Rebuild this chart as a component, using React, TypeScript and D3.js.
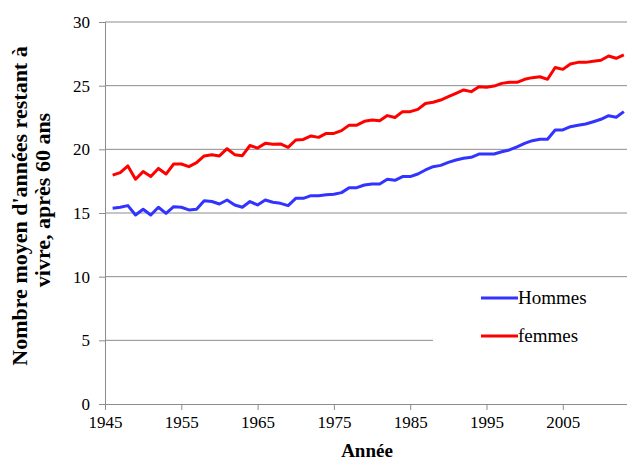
import React, { useEffect, useRef } from 'react';
import * as d3 from 'd3';

const years = d3.range(1946, 2014);

const hommes = [
  15.37, 15.45, 15.58, 14.84, 15.29, 14.84, 15.45, 14.97, 15.5, 15.45,
  15.24, 15.29, 15.97, 15.9, 15.71, 16.02, 15.63, 15.45, 15.9, 15.63,
  16.02, 15.84, 15.76, 15.58, 16.15, 16.15, 16.36, 16.36, 16.44, 16.47,
  16.6, 16.99, 16.99, 17.2, 17.28, 17.28, 17.65, 17.57, 17.86, 17.86,
  18.06, 18.38, 18.64, 18.74, 18.98, 19.16, 19.3, 19.37, 19.63, 19.63,
  19.63, 19.81, 19.95, 20.2, 20.47, 20.68, 20.79, 20.79, 21.52, 21.52,
  21.78, 21.89, 21.99, 22.17, 22.36, 22.64, 22.52, 22.96
];

const femmes = [
  17.98, 18.17, 18.7, 17.65, 18.25, 17.86, 18.5, 18.06, 18.85, 18.85,
  18.64, 18.95, 19.48, 19.58, 19.48, 20.05, 19.58, 19.5, 20.3, 20.1,
  20.47, 20.4, 20.42, 20.16, 20.73, 20.78, 21.05, 20.94, 21.25, 21.25,
  21.47, 21.9, 21.9, 22.2, 22.3, 22.25, 22.65, 22.5, 22.96, 22.96,
  23.14, 23.6, 23.7, 23.87, 24.13, 24.4, 24.66, 24.53, 24.92, 24.87,
  24.97, 25.18, 25.26, 25.26, 25.5, 25.63, 25.7, 25.5, 26.43, 26.28,
  26.7, 26.83, 26.83, 26.91, 27.0, 27.33, 27.15, 27.41
];

const xTicks = [1945, 1955, 1965, 1975, 1985, 1995, 2005];
const yTicks = [0, 5, 10, 15, 20, 25, 30];

const series = [
  { name: 'Hommes', values: hommes, color: '#3333ff' },
  { name: 'femmes', values: femmes, color: '#ff0000' }
];

const FONT = 'Liberation Serif';

const App = () => {
  const ref = useRef<SVGSVGElement>(null);

  useEffect(() => {
    const width = 627;
    const height = 461;

    const svg = d3.select(ref.current);
    svg.selectAll('*').remove();
    svg.attr('width', width).attr('height', height);

    const x = d3.scaleLinear().domain([1945, 2015]).range([105, 105 + 70 * 7.63]);
    const y = d3.scaleLinear().domain([0, 30]).range([404, 22]);

    // gridlines
    svg.append('g')
      .selectAll('line')
      .data(yTicks.filter(d => d > 0))
      .join('line')
      .attr('x1', x(1945))
      .attr('x2', width)
      .attr('y1', d => y(d))
      .attr('y2', d => y(d))
      .attr('stroke', '#8c8c8c')
      .attr('stroke-width', 1);

    // y axis
    const yAxis = svg.append('g')
      .attr('transform', `translate(${x(1945)},0)`)
      .call(d3.axisLeft(y).tickValues(yTicks).tickSize(6).tickPadding(9));
    yAxis.attr('font-family', FONT).attr('font-size', 17);
    yAxis.select('.domain').attr('stroke', '#8c8c8c');
    yAxis.selectAll('.tick line').attr('stroke', '#8c8c8c');
    yAxis.selectAll('text').attr('fill', '#000');

    // x axis
    const xAxis = svg.append('g')
      .attr('transform', `translate(0,${y(0)})`)
      .call(d3.axisBottom(x).tickValues(xTicks).tickFormat(d3.format('d')).tickSize(6).tickPadding(6));
    xAxis.attr('font-family', FONT).attr('font-size', 17);
    xAxis.select('.domain').attr('stroke', '#8c8c8c');
    xAxis.selectAll('.tick line').attr('stroke', '#8c8c8c');
    xAxis.selectAll('text').attr('fill', '#000');

    // lines
    const line = d3.line<number>()
      .x((d, i) => x(years[i]))
      .y(d => y(d));

    series.forEach(s => {
      svg.append('path')
        .datum(s.values)
        .attr('fill', 'none')
        .attr('stroke', s.color)
        .attr('stroke-width', 3)
        .attr('stroke-linejoin', 'round')
        .attr('d', line);
    });

    // legend
    svg.append('rect')
      .attr('x', 433)
      .attr('y', 284)
      .attr('width', 200)
      .attr('height', 80)
      .attr('fill', '#fff');

    const legend = svg.append('g')
      .attr('font-family', FONT)
      .attr('font-size', 19)
      .selectAll('g')
      .data(series)
      .join('g')
      .attr('transform', (d, i) => `translate(481,${298 + i * 38})`);
    legend.append('line')
      .attr('x1', 0)
      .attr('x2', 37)
      .attr('stroke', d => d.color)
      .attr('stroke-width', 3);
    legend.append('text')
      .attr('x', 37)
      .attr('dy', '0.33em')
      .text(d => d.name);

    // axis titles
    const titles = svg.append('g')
      .attr('font-family', FONT)
      .attr('font-weight', 'bold')
      .attr('text-anchor', 'middle');
    titles.append('text')
      .attr('font-size', 22)
      .attr('transform', 'translate(27,206) rotate(-90)')
      .text("Nombre moyen d'années restant à");
    titles.append('text')
      .attr('font-size', 22)
      .attr('transform', 'translate(50,200) rotate(-90)')
      .text('vivre, après 60 ans');
    titles.append('text')
      .attr('font-size', 19)
      .attr('x', 367)
      .attr('y', 457)
      .text('Année');
  }, []);

  return (
    <svg ref={ref} style={{ position: 'absolute', left: 0, top: 0, background: '#fff' }} />
  );
};

export default App;
